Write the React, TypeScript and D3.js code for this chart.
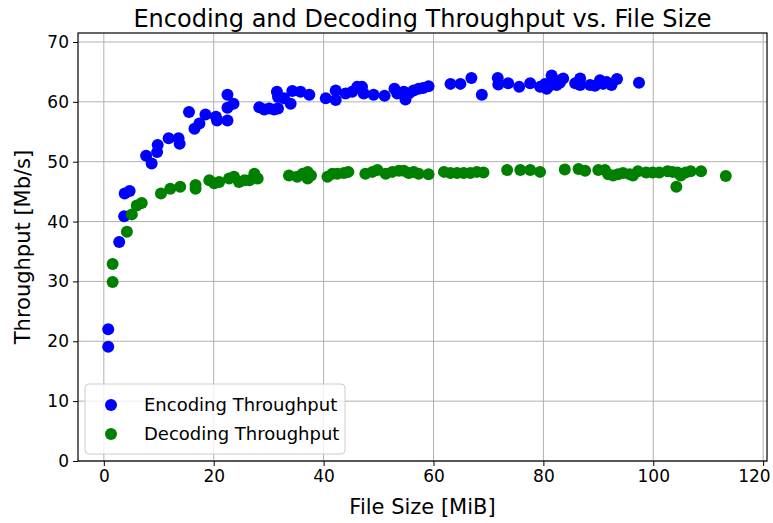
import React, { useEffect, useRef } from 'react';
import * as d3 from 'd3';

// file size [MiB] and throughput [Mb/s]
const encSize = [0.8, 0.8, 2.8, 3.7, 3.8, 4.7, 7.7, 8.7, 9.7, 9.8, 11.8, 13.6, 13.8, 15.5, 16.5, 17.4, 18.5, 20.4, 20.6, 22.5, 22.5, 22.5, 23.6,
  28.3, 29.2, 30.1, 31.0, 31.7, 31.5, 31.7, 32.8, 34.0, 34.3, 35.8, 37.4, 40.4, 42.2, 42.2, 44.0, 45.2, 46.1, 47.0, 47.3, 49.1, 51.1,
  52.9, 53.4, 54.6, 54.9, 55.5, 56.4, 57.3, 58.1, 59.1, 63.1, 64.9, 66.9, 68.8, 71.7, 71.8, 73.6, 75.6, 77.6, 79.4, 80.3, 80.6, 81.0,
  81.5, 82.1, 82.4, 83.0, 83.6, 85.8, 86.7, 86.7, 88.5, 89.4, 90.3, 90.9, 91.5, 92.4, 93.4, 97.4];
const encRate = [19.1, 22.0, 36.6, 40.9, 44.7, 45.1, 51.0, 49.7, 51.6, 52.8, 53.9, 53.9, 53.0, 58.3, 55.5, 56.4, 57.9, 57.5, 56.9, 56.9, 61.2, 59.0, 59.7,
  59.1, 58.7, 58.9, 58.7, 58.9, 61.7, 60.8, 60.6, 59.7, 61.8, 61.7, 61.2, 60.6, 61.9, 60.3, 61.4, 61.7, 62.5, 62.5, 61.4, 61.2, 61.0,
  62.2, 61.4, 61.7, 60.4, 61.4, 61.9, 62.2, 62.3, 62.6, 63.0, 63.0, 64.0, 61.2, 64.0, 62.9, 63.1, 62.5, 63.1, 62.5, 63.0, 62.2, 62.6,
  64.4, 63.6, 62.8, 63.2, 63.9, 63.1, 63.9, 62.8, 62.8, 62.7, 63.6, 63.0, 63.3, 62.8, 63.8, 63.2];

const decSize = [1.6, 1.6, 4.2, 5.1, 6.0, 6.9, 10.4, 12.1, 13.9, 16.7, 16.7, 19.2, 20.1, 21.0, 22.8, 23.7, 24.6, 25.6, 26.5, 27.4, 28.0,
  33.7, 35.2, 36.2, 37.1, 37.7, 37.1, 40.7, 41.6, 42.5, 43.7, 44.5, 47.6, 48.9, 49.8, 51.3, 52.5, 53.7, 54.6, 55.5, 56.4, 57.3, 59.1,
  61.9, 63.1, 64.3, 65.5, 66.7, 67.9, 69.1, 73.4, 75.8, 77.6, 79.4, 83.9, 86.4, 87.6, 90.0, 91.2, 91.8, 92.7, 93.6, 94.5, 95.7, 96.3,
  97.2, 98.7, 99.9, 101.1, 102.6, 103.5, 104.4, 105.0, 105.9, 106.8, 108.7, 104.2, 113.2];
const decRate = [29.9, 32.9, 38.3, 41.2, 42.7, 43.1, 44.7, 45.5, 45.8, 46.1, 45.5, 46.9, 46.4, 46.6, 47.2, 47.5, 46.6, 46.9, 46.9, 48.0, 47.2,
  47.7, 47.5, 48.0, 48.3, 47.7, 47.2, 47.5, 48.0, 48.0, 48.1, 48.3, 48.0, 48.3, 48.6, 48.0, 48.3, 48.5, 48.5, 48.1, 48.3, 48.0, 47.9,
  48.3, 48.1, 48.1, 48.1, 48.1, 48.3, 48.2, 48.6, 48.6, 48.6, 48.3, 48.7, 48.8, 48.5, 48.6, 48.6, 47.9, 47.7, 47.9, 48.1, 47.9, 47.7,
  48.4, 48.2, 48.2, 48.2, 48.4, 48.3, 48.2, 47.7, 48.2, 48.4, 48.4, 45.8, 47.6];

const xTicks = [0, 20, 40, 60, 80, 100, 120];
const yTicks = [0, 10, 20, 30, 40, 50, 60, 70];

const FONT = 'DejaVu Sans, sans-serif';

export default function App() {
  const ref = useRef<SVGSVGElement>(null);

  useEffect(() => {
    const width = 773;
    const height = 523;
    const margin = { top: 33, right: 6, bottom: 62, left: 78 };

    const svg = d3.select(ref.current);
    svg.selectAll('*').remove();

    const w = width - margin.left - margin.right;
    const h = height - margin.top - margin.bottom;

    const x_scale = d3.scaleLinear().domain([-4.7, 120.7]).range([0, w]);
    const y_scale = d3.scaleLinear().domain([0, 71.5]).range([h, 0]);

    const g = svg.append('g')
      .attr('transform', 'translate(' + margin.left + ',' + margin.top + ')');

    // grid
    g.append('g')
      .selectAll('line')
      .data(xTicks)
      .enter()
      .append('line')
      .attr('x1', d => x_scale(d)).attr('x2', d => x_scale(d))
      .attr('y1', 0).attr('y2', h)
      .attr('stroke', '#b0b0b0').attr('stroke-width', 1);
    g.append('g')
      .selectAll('line')
      .data(yTicks)
      .enter()
      .append('line')
      .attr('x1', 0).attr('x2', w)
      .attr('y1', d => y_scale(d)).attr('y2', d => y_scale(d))
      .attr('stroke', '#b0b0b0').attr('stroke-width', 1);

    const x_axis = d3.axisBottom(x_scale).tickValues(xTicks).tickSize(5).tickPadding(4);
    const y_axis = d3.axisLeft(y_scale).tickValues(yTicks).tickSize(5).tickPadding(4);

    const xa = g.append('g').attr('transform', 'translate(0,' + h + ')').call(x_axis);
    const ya = g.append('g').call(y_axis);
    [xa, ya].forEach(a => {
      a.select('.domain').remove();
      a.selectAll('text').attr('font-family', FONT).attr('font-size', 17).attr('fill', '#000');
      a.selectAll('line').attr('stroke', '#000');
    });
    // keep the last x label inside the window
    xa.selectAll('text').filter(d => d === 120).attr('text-anchor', 'end').attr('dx', 7);

    const enc = encSize.map((s, i) => ({ s, r: encRate[i] }));
    const dec = decSize.map((s, i) => ({ s, r: decRate[i] }));

    g.append('g').selectAll('circle').data(enc).enter().append('circle')
      .attr('cx', d => x_scale(d.s)).attr('cy', d => y_scale(d.r))
      .attr('r', 6).attr('fill', '#0000ff');
    g.append('g').selectAll('circle').data(dec).enter().append('circle')
      .attr('cx', d => x_scale(d.s)).attr('cy', d => y_scale(d.r))
      .attr('r', 6).attr('fill', '#008000');

    // frame
    g.append('rect')
      .attr('width', w).attr('height', h)
      .attr('fill', 'none').attr('stroke', '#000').attr('stroke-width', 1.2);

    // legend
    const lg = g.append('g').attr('transform', 'translate(7,' + (h - 77) + ')');
    lg.append('rect')
      .attr('width', 260).attr('height', 70).attr('rx', 4)
      .attr('fill', '#fff').attr('fill-opacity', 0.8)
      .attr('stroke', '#cccccc');
    [['Encoding Throughput', '#0000ff'], ['Decoding Throughput', '#008000']].forEach(([label, c], i) => {
      lg.append('circle').attr('cx', 26).attr('cy', 21 + i * 29).attr('r', 6).attr('fill', c);
      lg.append('text').attr('x', 59).attr('y', 21 + i * 29).attr('dy', '0.35em')
        .attr('font-family', FONT).attr('font-size', 18).text(label);
    });

    svg.append('text')
      .attr('x', margin.left + w / 2).attr('y', 27)
      .attr('text-anchor', 'middle')
      .attr('font-family', FONT).attr('font-size', 24)
      .text('Encoding and Decoding Throughput vs. File Size');

    svg.append('text')
      .attr('x', margin.left + w / 2).attr('y', 514)
      .attr('text-anchor', 'middle')
      .attr('font-family', FONT).attr('font-size', 21)
      .text('File Size [MiB]');

    svg.append('text')
      .attr('transform', 'translate(30,' + (margin.top + h / 2) + ') rotate(-90)')
      .attr('text-anchor', 'middle')
      .attr('font-family', FONT).attr('font-size', 21)
      .text('Throughput [Mb/s]');
  }, []);

  return (
    <svg ref={ref} width={773} height={523} style={{ display: 'block', position: 'absolute', left: 0, top: 0 }} />
  );
}
